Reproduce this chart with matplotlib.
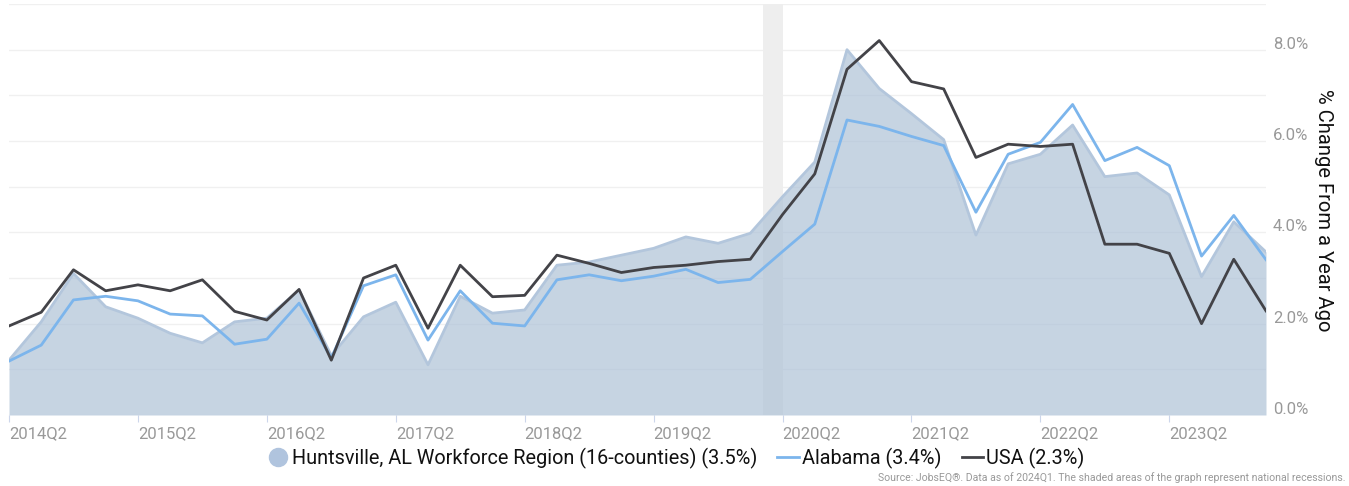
import matplotlib
matplotlib.use("Agg")
import matplotlib.pyplot as plt
from matplotlib.lines import Line2D
from matplotlib.transforms import ScaledTranslation
import numpy as np

plt.rcParams['font.family'] = ['Roboto', 'DejaVu Sans']

# ---- data ----
years = list(range(2014, 2025))
quarters = [f"{y}Q{q}" for y in years for q in range(1, 5)]
quarters = quarters[quarters.index("2014Q2"):quarters.index("2024Q1") + 1]

huntsville = [1.20, 2.04, 3.10, 2.37, 2.12, 1.79, 1.58, 2.04, 2.12, 2.74,
              1.30, 2.15, 2.47, 1.10, 2.60, 2.23, 2.30, 3.28, 3.35, 3.50,
              3.65, 3.90, 3.76, 3.98, 4.78, 5.54, 8.00, 7.15, 6.60, 6.03,
              3.94, 5.50, 5.71, 6.35, 5.22, 5.30, 4.82, 3.03, 4.23, 3.57]
alabama = [1.18, 1.53, 2.52, 2.60, 2.50, 2.21, 2.17, 1.55, 1.66, 2.45,
           1.25, 2.83, 3.07, 1.64, 2.72, 2.01, 1.95, 2.96, 3.07, 2.94,
           3.04, 3.19, 2.90, 2.97, 3.58, 4.18, 6.46, 6.32, 6.10, 5.90,
           4.44, 5.71, 5.97, 6.80, 5.57, 5.86, 5.46, 3.48, 4.37, 3.40]
usa = [1.95, 2.25, 3.18, 2.72, 2.85, 2.72, 2.96, 2.27, 2.08, 2.75,
       1.20, 3.00, 3.28, 1.90, 3.28, 2.59, 2.62, 3.50, 3.32, 3.12,
       3.23, 3.28, 3.36, 3.41, 4.39, 5.28, 7.57, 8.20, 7.30, 7.14,
       5.64, 5.93, 5.88, 5.93, 3.74, 3.74, 3.54, 2.00, 3.41, 2.28]

legend_labels = ["Huntsville, AL Workforce Region (16-counties) (3.5%)",
                 "Alabama (3.4%)", "USA (2.3%)"]
y_ticks = [0, 2, 4, 6, 8]
y_ticklabels = ["0.0%", "2.0%", "4.0%", "6.0%", "8.0%"]
x_tick_labels = [q for q in quarters if q.endswith("Q2")]
recession_start, recession_end = 23.38, 24.0  # position in quarter index units

# ---- figure ----
W, H = 1349, 486
fig = plt.figure(figsize=(W / 100, H / 100), dpi=100)
ax = fig.add_axes([9 / W, (H - 415) / H, (1266 - 9) / W, (415 - 4) / H])

x = np.arange(len(quarters))
ax.axvspan(recession_start, recession_end, color='#eeeeee', zorder=1, lw=0)
ax.fill_between(x, 0, huntsville, color='#aec2d7', alpha=0.7, lw=0, zorder=2)
ax.plot(x, huntsville, color='#b3c6dc', lw=2, zorder=3)
ax.plot(x, alabama, color='#7cb5ec', lw=2, zorder=4)
ax.plot(x, usa, color='#434348', lw=2, zorder=5)

ax.set_xlim(0, len(quarters) - 1)
ax.set_ylim(0, 9)

for s in ax.spines.values():
    s.set_visible(False)

# grid
ax.set_yticks(y_ticks)
ax.set_yticks([1, 3, 5, 7, 9], minor=True)
ax.grid(axis='y', which='both', color='#f0f0f0', lw=1, zorder=0)
ax.set_axisbelow(True)
ax.yaxis.tick_right()
ax.set_yticklabels(y_ticklabels, color='#999999', fontsize=12)
ax.tick_params(axis='y', which='both', length=0, pad=5)
off = ScaledTranslation(0, 7 / 100, fig.dpi_scale_trans)
for lab in ax.get_yticklabels():
    lab.set_transform(lab.get_transform() + off)

xt = [quarters.index(q) for q in x_tick_labels]
ax.set_xticks(xt)
ax.set_xticklabels(x_tick_labels, color='#999999', fontsize=12, ha='left')
ax.tick_params(axis='x', length=5, color='#ccd6eb', pad=3)

fig.text(1323 / W, 1 - 210 / H, "% Change From a Year Ago", rotation=-90,
         ha='center', va='center', fontsize=14.5, color='#111111')

handles = [Line2D([], [], marker='o', ls='none', markersize=13, color='#b0c4de'),
           Line2D([], [], color='#7cb5ec', lw=2),
           Line2D([], [], color='#434348', lw=2)]
fig.legend(handles, legend_labels, loc='center', bbox_to_anchor=(676 / W, 1 - 458 / H),
           ncol=3, frameon=False, fontsize=14.3, handlelength=1.1, handletextpad=0.15,
           columnspacing=1.0, labelcolor='#111111')

fig.text(1345 / W, 1 - 478 / H,
         "Source: JobsEQ®. Data as of 2024Q1. The shaded areas of the graph represent national recessions.",
         ha='right', va='center', fontsize=7.55, color='#999999')

fig.savefig("out.png", dpi=100)
